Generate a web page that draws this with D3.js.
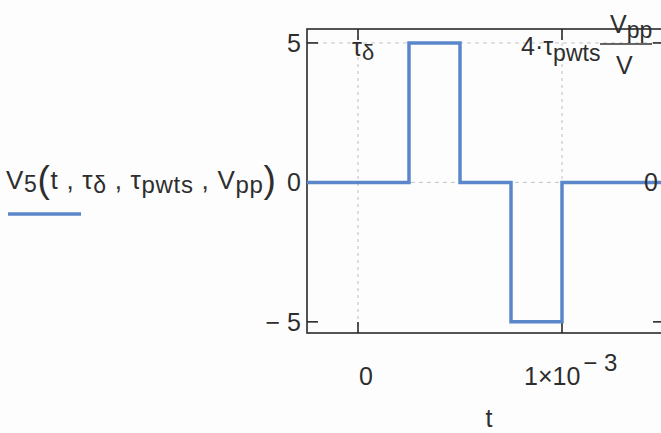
<!DOCTYPE html>
<html>
<head>
<meta charset="utf-8">
<script src="https://cdn.jsdelivr.net/npm/d3@7"></script>
<style>
  body { margin: 0; background: #fdfdfd; }
  svg { display: block; }
  text { font-family: "Liberation Sans", Arial, sans-serif; fill: #2e2e2e; }
</style>
</head>
<body>
<div id="chart"></div>
<script>
// Step waveform V5(t) : breakpoints in seconds, value held until next breakpoint
const stepTimes  = [-0.25e-3, 0.25e-3, 0.5e-3, 0.75e-3, 1.0e-3, 1.5e-3];
const stepValues = [0, 5, 0, -5, 0, 0];

// axis ticks and their labels
const yTicks = [5, 0, -5];
const yTickLabels = ["5", "0", "\u2212 5"];
const xTicks = [0, 1e-3];

// markers (x at tau_delta = 0 and 4*tau_pwts = 1e-3, y at 0 and Vpp/V = 5)
const xMarkers = [0, 1e-3];
const yMarkers = [5, 0];

const W = 661, H = 433;
const svg = d3.select("#chart").append("svg")
    .attr("width", W)
    .attr("height", H);

// plot frame in pixels
const frame = {left: 307, right: 664, top: 29, bottom: 333};

const x = d3.scaleLinear()
    .domain([-0.25e-3, 1.5e-3])
    .range([frame.left, frame.right]);
const y = d3.scaleLinear()
    .domain([-5.4, 5.5])
    .range([frame.bottom, frame.top]);

// marker lines
svg.selectAll(".xmark")
  .data(xMarkers)
  .enter().append("line")
    .attr("x1", d => x(d)).attr("x2", d => x(d))
    .attr("y1", frame.top).attr("y2", frame.bottom)
    .attr("stroke", "#d2c3cb")
    .attr("stroke-width", 1.2)
    .attr("stroke-dasharray", "3,4");
svg.selectAll(".ymark")
  .data(yMarkers)
  .enter().append("line")
    .attr("x1", frame.left).attr("x2", frame.right)
    .attr("y1", d => y(d)).attr("y2", d => y(d))
    .attr("stroke", "#c4c4c4")
    .attr("stroke-width", 1)
    .attr("stroke-dasharray", "4,4");

// frame
svg.append("rect")
    .attr("x", frame.left).attr("y", frame.top)
    .attr("width", frame.right - frame.left)
    .attr("height", frame.bottom - frame.top)
    .attr("fill", "none")
    .attr("stroke", "#2a2a2a")
    .attr("stroke-width", 1.6);

// ticks (inward)
const tickLen = 11;
svg.selectAll(".ytickL")
  .data(yTicks)
  .enter().append("line")
    .attr("x1", frame.left).attr("x2", frame.left + tickLen)
    .attr("y1", d => y(d)).attr("y2", d => y(d))
    .attr("stroke", "#2a2a2a").attr("stroke-width", 1.6);
svg.selectAll(".ytickR")
  .data(yTicks)
  .enter().append("line")
    .attr("x1", frame.right).attr("x2", frame.right - tickLen)
    .attr("y1", d => y(d)).attr("y2", d => y(d))
    .attr("stroke", "#2a2a2a").attr("stroke-width", 1.6);
svg.selectAll(".xtickB")
  .data(xTicks)
  .enter().append("line")
    .attr("x1", d => x(d)).attr("x2", d => x(d))
    .attr("y1", frame.bottom).attr("y2", frame.bottom - tickLen)
    .attr("stroke", "#2a2a2a").attr("stroke-width", 1.6);
svg.selectAll(".xtickT")
  .data(xTicks)
  .enter().append("line")
    .attr("x1", d => x(d)).attr("x2", d => x(d))
    .attr("y1", frame.top).attr("y2", frame.top + tickLen)
    .attr("stroke", "#2a2a2a").attr("stroke-width", 1.6);

// y tick labels
svg.selectAll(".ylabel")
  .data(yTicks)
  .enter().append("text")
    .attr("x", 301)
    .attr("y", d => y(d) + 9)
    .attr("text-anchor", "end")
    .style("font-size", "25px")
    .text((d, i) => yTickLabels[i]);

// x tick labels
svg.append("text")
    .attr("x", x(xTicks[0]) + 8)
    .attr("y", 385)
    .attr("text-anchor", "middle")
    .style("font-size", "25px")
    .text("0");
const xl = svg.append("text")
    .attr("x", x(xTicks[1]) - 38)
    .attr("y", 385)
    .style("font-size", "25px");
xl.append("tspan").text("1\u00d710");
xl.append("tspan").attr("dx", 3).attr("dy", -14).style("font-size", "24px").text("\u2212 3");

// x axis title
svg.append("text")
    .attr("x", 489).attr("y", 427)
    .attr("text-anchor", "middle")
    .style("font-size", "25px")
    .text("t");

// step trace
const pts = [];
stepTimes.forEach((t, i) => {
  if (i > 0) pts.push([t, stepValues[i - 1]]);
  if (i < stepTimes.length - 1) pts.push([t, stepValues[i]]);
});
svg.append("path")
    .datum(pts)
    .attr("fill", "none")
    .attr("stroke", "#5b86c9")
    .attr("stroke-width", 3.5)
    .attr("d", d3.line().x(d => x(d[0])).y(d => y(d[1])));

// marker labels
const md = svg.append("text").attr("x", x(xMarkers[0]) - 6).attr("y", 56).style("font-size", "25px");
md.append("tspan").text("\u03c4");
md.append("tspan").attr("dy", 4).style("font-size", "22px").text("\u03b4");

const mp = svg.append("text").attr("x", x(xMarkers[1]) - 41).attr("y", 55).style("font-size", "25px");
mp.append("tspan").text("4\u00b7\u03c4");
mp.append("tspan").attr("dy", 6).style("font-size", "23px").text("pwts");

// Vpp / V fraction
svg.append("line")
    .attr("x1", 600).attr("x2", 652)
    .attr("y1", 44).attr("y2", 44)
    .attr("stroke", "#333").attr("stroke-width", 1.6);
const num = svg.append("text").attr("x", 610).attr("y", 33).style("font-size", "25px");
num.append("tspan").text("V");
num.append("tspan").attr("dy", 5).style("font-size", "23px").text("pp");
svg.append("text").attr("x", 616).attr("y", 74).style("font-size", "25px").text("V");

svg.append("text").attr("x", 644).attr("y", y(0) + 9).style("font-size", "25px").text("0");

// legend
const lg = svg.append("text").attr("x", 6).attr("y", 189)
    .style("font-size", "26px")
    .style("letter-spacing", "0.7px");
lg.append("tspan").text("V");
lg.append("tspan").attr("dy", 3).style("font-size", "23px").text("5");
lg.append("tspan").attr("dy", 0).style("font-size", "37px").text("(");
lg.append("tspan").attr("dy", -3).text("t , \u03c4");
lg.append("tspan").attr("dy", 4).style("font-size", "23px").text("\u03b4");
lg.append("tspan").attr("dy", -4).text(" , \u03c4");
lg.append("tspan").attr("dy", 4).style("font-size", "24px").text("pwts");
lg.append("tspan").attr("dy", -4).text(" , V");
lg.append("tspan").attr("dy", 4).style("font-size", "24px").text("pp");
lg.append("tspan").attr("dy", -1).style("font-size", "37px").text(")");

svg.append("line")
    .attr("x1", 8).attr("x2", 81)
    .attr("y1", 214).attr("y2", 214)
    .attr("stroke", "#5b86c9")
    .attr("stroke-width", 3.5);
</script>
</body>
</html>
